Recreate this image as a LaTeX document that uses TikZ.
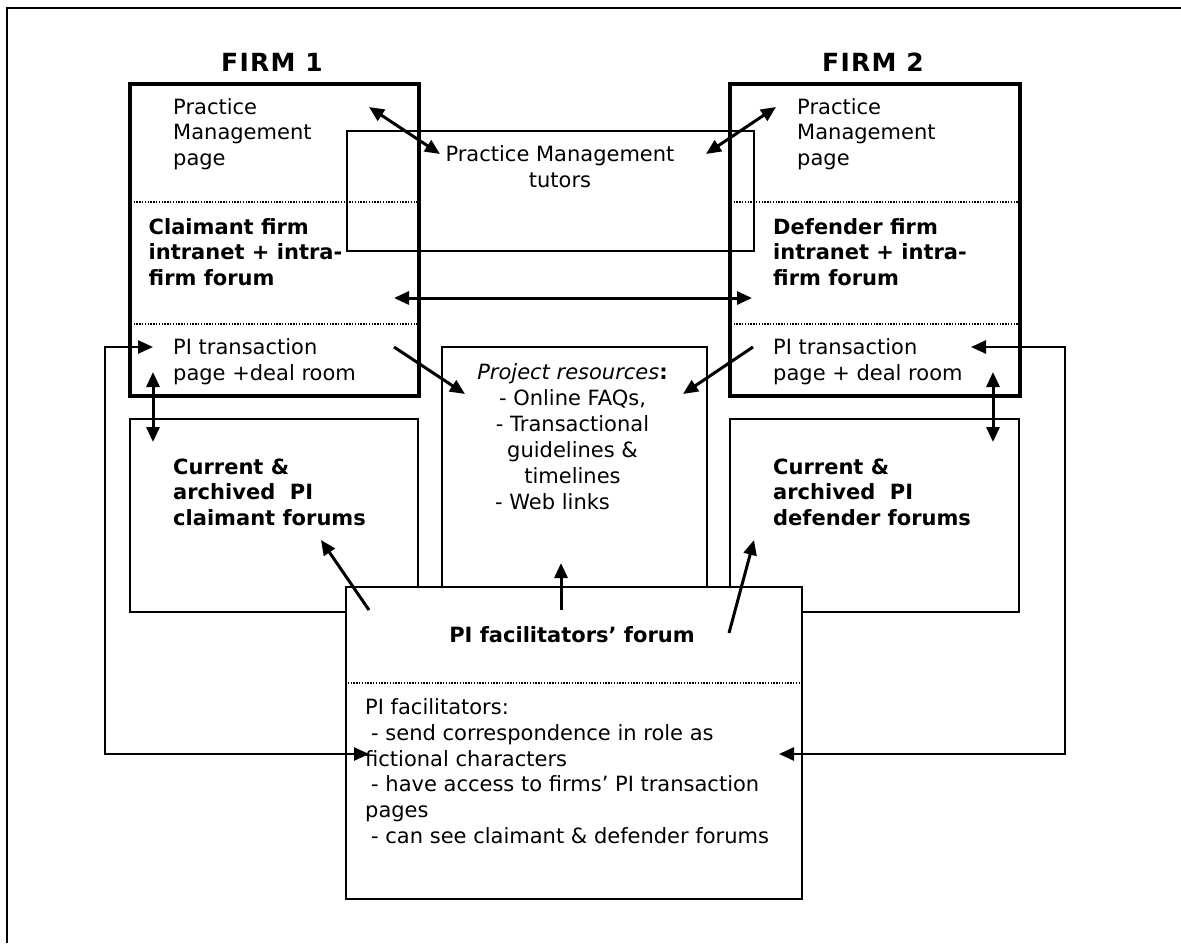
\documentclass[tikz,border=0pt]{standalone}
\usepackage{fontspec}
\setmainfont{DejaVu Sans}
\usetikzlibrary{arrows.meta}
\begin{document}
\begin{tikzpicture}[x=1pt,y=-1pt,
  txt/.style={inner sep=0pt, font=\fontsize{21}{25.6}\selectfont, align=left, anchor=base west},
  btxt/.style={txt, font=\fontsize{21}{25.6}\selectfont\bfseries},
  ctxt/.style={inner sep=0pt, font=\fontsize{21}{25.6}\selectfont, align=center, anchor=base},
  firmlabel/.style={inner sep=0pt, font=\fontsize{25}{28}\selectfont\bfseries\addfontfeature{LetterSpace=5}, anchor=base},
  thickbox/.style={draw, line width=4pt, anchor=north west, inner sep=0pt},
  thinbox/.style={draw, line width=2pt, anchor=north west, inner sep=0pt},
  whitebox/.style={thinbox, fill=white},
  sep/.style={line width=1.4pt, dash pattern=on 1.4pt off 1.4pt},
  arr/.style={line width=3pt, -{Triangle[length=15pt,width=13pt]}},
  darr/.style={line width=3pt, {Triangle[length=15pt,width=13pt]}-{Triangle[length=15pt,width=13pt]}},
  loop/.style={line width=2.5pt, {Triangle[length=15pt,width=13pt]}-{Triangle[length=15pt,width=13pt]}},
]
\useasboundingbox (0,0) rectangle (1181,943);

% outer frame (open at right and bottom)
\draw[line width=2.5pt] (7,943) -- (7,8) -- (1181,8);

% boxes
\node[thinbox, minimum width=407pt, minimum height=120pt] (tutors) at (346,130) {};
\node[thickbox, minimum width=289pt, minimum height=312pt] (firm1) at (128,82) {};
\node[thickbox, minimum width=290pt, minimum height=312pt] (firm2) at (728,82) {};
\node[thinbox, minimum width=288pt, minimum height=193pt] (clforum) at (129,418) {};
\node[thinbox, minimum width=289pt, minimum height=193pt] (defforum) at (729,418) {};
\node[thinbox, minimum width=265pt, minimum height=240pt] (resources) at (441,346) {};
\node[whitebox, minimum width=456pt, minimum height=312pt] (facil) at (345,586) {};

% dotted separators
\draw[sep] (128,202) -- (417,202);
\draw[sep] (128,324) -- (417,324);
\draw[sep] (728,202) -- (1018,202);
\draw[sep] (728,324) -- (1018,324);
\draw[sep] (345,683) -- (801,683);

% labels (multi-line nodes are anchored at the baseline of their last line)
\node[firmlabel] (f1lab) at (272,71) {FIRM 1};
\node[firmlabel] (f2lab) at (873,71) {FIRM 2};

\node[txt] (pm1) at (173,165.5) {Practice\\Management\\page};
\node[btxt] (cl1) at (148.5,285.5) {Claimant firm\\intranet + intra-\\firm forum};
\node[txt] (pi1) at (173,380.5) {PI transaction\\page +deal room};

\node[txt] (pm2) at (797,165.5) {Practice\\Management\\page};
\node[btxt] (df2) at (773,285.5) {Defender firm\\intranet + intra-\\firm forum};
\node[txt] (pi2) at (773,380.5) {PI transaction\\page + deal room};

\node[ctxt] (tut) at (560,187.5) {Practice Management\\tutors};

\node[btxt] (clf) at (173,525.5) {Current \&\\archived~ PI\\claimant forums};
\node[btxt] (dff) at (773,525.5) {Current \&\\archived~ PI\\defender forums};

\node[ctxt, font=\fontsize{21}{26}\selectfont] (res) at (572.5,509.5) {\textit{Project resources}\textbf{:}\\- Online FAQs,\\- Transactional\\guidelines \&\\timelines\\- Web links\hspace*{40pt}};

\node[ctxt, font=\fontsize{21}{25.6}\selectfont\bfseries] (facf) at (572,642) {PI facilitators’ forum};
\node[txt, font=\fontsize{21}{25.8}\selectfont] (facb) at (365,843.5) {PI facilitators:\\\hspace*{6pt}- send correspondence in role as\\fictional characters\\\hspace*{6pt}- have access to firms’ PI transaction\\pages\\\hspace*{6pt}- can see claimant \& defender forums};

% connector end points
\coordinate (pm1a) at (369,107);
\coordinate (tuta) at (440,154);
\coordinate (tutb) at (706,154);
\coordinate (pm2a) at (776,107);
\coordinate (f1h) at (394,298);
\coordinate (f2h) at (752,298);
\coordinate (pi1in) at (153,347);
\coordinate (l1a) at (105,347);
\coordinate (l1b) at (105,754);
\coordinate (fac1in) at (369,754);
\coordinate (pi2in) at (971,347);
\coordinate (l2a) at (1065,347);
\coordinate (l2b) at (1065,754);
\coordinate (fac2in) at (779,754);
\coordinate (pi1out) at (394,347);
\coordinate (res1) at (465,394);
\coordinate (pi2out) at (753,347);
\coordinate (res2) at (683,394);
\coordinate (pi1d) at (153,372);
\coordinate (clfu) at (153,442);
\coordinate (pi2d) at (993,372);
\coordinate (dffu) at (993,442);
\coordinate (facA) at (369,610);
\coordinate (clfin) at (321,540);
\coordinate (facB) at (561,610);
\coordinate (resin) at (561,563);
\coordinate (facC) at (729,633);
\coordinate (dffin) at (754,540);

% connectors
\draw[darr] (pm1a) -- (tuta);
\draw[darr] (tutb) -- (pm2a);
\draw[darr] (f1h) -- (f2h);
\draw[loop] (pi1in) -- (l1a) -- (l1b) -- (fac1in);
\draw[loop] (pi2in) -- (l2a) -- (l2b) -- (fac2in);
\draw[arr] (pi1out) -- (res1);
\draw[arr] (pi2out) -- (res2);
\draw[darr] (pi1d) -- (clfu);
\draw[darr] (pi2d) -- (dffu);
\draw[arr] (facA) -- (clfin);
\draw[arr] (facB) -- (resin);
\draw[arr] (facC) -- (dffin);
\end{tikzpicture}
\end{document}
